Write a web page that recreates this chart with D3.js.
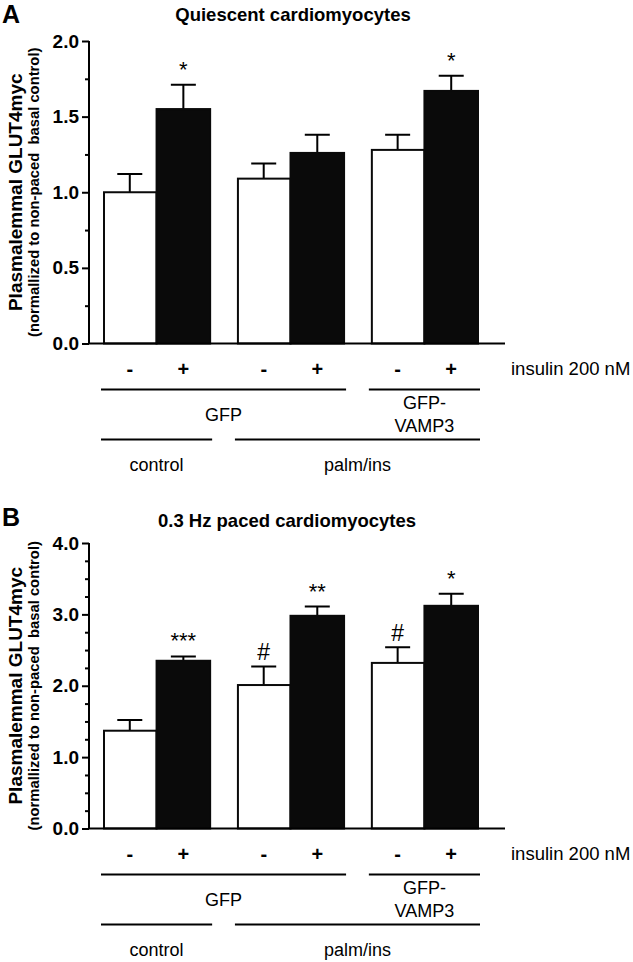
<!DOCTYPE html>
<html>
<head>
<meta charset="utf-8">
<script src="https://cdn.jsdelivr.net/npm/d3@7"></script>
<style>
  html, body { margin: 0; padding: 0; background: #fff; }
  svg { display: block; font-family: "Liberation Sans", Arial, sans-serif; }
</style>
</head>
<body>
<svg id="chart" width="633" height="962"></svg>
<script>
// ---------- data ----------
const groups = ["GFP control", "GFP palm/ins", "GFP-VAMP3 palm/ins"];
const insulin = ["-", "+"];
const insulinLabel = "insulin 200 nM";

const quiescentTitle = "Quiescent cardiomyocytes";
const quiescentMean = [1.00, 1.55, 1.09, 1.26, 1.28, 1.67];
const quiescentSEM  = [0.12, 0.16, 0.10, 0.12, 0.10, 0.10];
const quiescentSig  = ["", "*", "", "", "", "*"];
const quiescentTicks = [0.0, 0.5, 1.0, 1.5, 2.0];
const quiescentMinor = [0.25, 0.75, 1.25, 1.75];

const pacedTitle = "0.3 Hz paced cardiomyocytes";
const pacedMean = [1.37, 2.35, 2.01, 2.98, 2.32, 3.12];
const pacedSEM  = [0.15, 0.06, 0.26, 0.13, 0.22, 0.17];
const pacedSig  = ["", "***", "#", "**", "#", "*"];
const pacedTicks = [0.0, 1.0, 2.0, 3.0, 4.0];
const pacedMinor = [0.25, 0.5, 0.75, 1.25, 1.5, 1.75, 2.25, 2.5, 2.75, 3.25, 3.5, 3.75];

const vectorBrackets = [
  { label: ["GFP"], from: 0, to: 1 },
  { label: ["GFP-", "VAMP3"], from: 2, to: 2 }
];
const treatmentBrackets = [
  { label: ["control"], from: 0, to: 0 },
  { label: ["palm/ins"], from: 1, to: 2 }
];
const yLabelMain = "Plasmalemmal GLUT4myc";
const yLabelSub = "(normallized to non-paced  basal control)";

// ---------- drawing ----------
const svg = d3.select("#chart");
const axisX = 89, axisEnd = 505;
const FONT = "Liberation Sans, Arial, sans-serif";

const xGroup = d3.scaleBand().domain(groups).range([103, 478]).paddingInner(0.2).paddingOuter(0);
const xIns = d3.scaleBand().domain(insulin).range([0, xGroup.bandwidth()]).padding(0);

function panel(cfg) {
  const g = svg.append("g");
  const y = d3.scaleLinear().domain([0, cfg.max]).range([cfg.y0, cfg.yTop]);

  // panel letter & title
  g.append("text").attr("x", 2).attr("y", cfg.letterY).text(cfg.letter)
    .attr("font-size", 25).attr("font-weight", "bold");
  g.append("text").attr("x", cfg.titleX).attr("y", cfg.titleY).attr("text-anchor", "middle")
    .attr("font-size", 18.5).attr("font-weight", "bold").text(cfg.title);

  // y labels
  const mid = (cfg.y0 + cfg.yTop) / 2;
  g.append("text").attr("transform", `translate(22,${mid}) rotate(-90)`)
    .attr("text-anchor", "middle").attr("font-size", 19).attr("font-weight", "bold")
    .text(yLabelMain);
  g.append("text").attr("transform", `translate(39,${mid}) rotate(-90)`)
    .attr("text-anchor", "middle").attr("font-size", 14.8).attr("font-weight", "bold")
    .style("white-space", "pre")
    .text(yLabelSub);

  // bars
  const data = cfg.mean.map((m, i) => ({
    group: groups[Math.floor(i / 2)], ins: insulin[i % 2], mean: m, sem: cfg.sem[i], sig: cfg.sig[i]
  }));
  const bx = d => xGroup(d.group) + xIns(d.ins);
  const bw = xIns.bandwidth();

  // error bars
  g.selectAll(".err").data(data).enter().append("path")
    .attr("d", d => {
      const cx = bx(d) + bw / 2, top = y(d.mean + d.sem), base = y(d.mean);
      return `M${cx},${base}V${top}M${cx - 12.5},${top}H${cx + 12.5}`;
    })
    .attr("stroke", "#000").attr("stroke-width", 2).attr("fill", "none");

  g.selectAll(".bar").data(data).enter().append("rect")
    .attr("x", d => bx(d) + (d.ins === "-" ? 1 : 0))
    .attr("width", d => bw - (d.ins === "-" ? 1 : 0))
    .attr("y", d => y(d.mean))
    .attr("height", d => y(0) - y(d.mean))
    .attr("fill", d => d.ins === "+" ? "#0a0a0a" : "#fff")
    .attr("stroke", "#0a0a0a").attr("stroke-width", 2);

  // significance marks
  g.selectAll(".sig").data(data.filter(d => d.sig)).enter().append("text")
    .attr("x", d => bx(d) + bw / 2)
    .attr("y", d => y(d.mean + d.sem) - (d.sig === "#" ? 6 : 8))
    .attr("text-anchor", "middle")
    .attr("font-size", d => d.sig === "#" ? 23 : 22)
    .text(d => d.sig);

  // axes
  const yAxis = d3.axisLeft(y).tickValues(cfg.ticks).tickSize(7).tickPadding(3)
    .tickFormat(d3.format(".1f"));
  const ya = g.append("g").attr("transform", `translate(${axisX},0)`).call(yAxis);
  ya.select(".domain").attr("stroke-width", 2).attr("d", `M0,${cfg.y0}V${cfg.yTop}`);
  ya.selectAll(".tick line").attr("stroke-width", 2);
  ya.selectAll(".tick text").attr("font-size", 19).attr("font-weight", "bold")
    .attr("font-family", FONT).attr("fill", "#000");
  const ym = g.append("g").attr("transform", `translate(${axisX},0)`)
    .call(d3.axisLeft(y).tickValues(cfg.minor).tickSize(4).tickFormat(""));
  ym.select(".domain").remove();
  ym.selectAll(".tick line").attr("stroke-width", 2);

  g.append("line").attr("x1", axisX).attr("x2", axisEnd).attr("y1", y(0)).attr("y2", y(0))
    .attr("stroke", "#000").attr("stroke-width", 2);

  // insulin row
  const rowY = y(0) + 25;
  g.selectAll(".ins").data(data).enter().append("text")
    .attr("x", d => bx(d) + bw / 2).attr("y", rowY).attr("dy", "0.35em")
    .attr("text-anchor", "middle").attr("font-size", 20).attr("font-weight", "bold")
    .text(d => d.ins);
  g.append("text").attr("x", 511).attr("y", rowY).attr("dy", "0.35em")
    .attr("font-size", 18.5).text(insulinLabel);

  // brackets
  function brackets(list, lineY, textY, lineGap) {
    list.forEach(b => {
      const x1 = xGroup(groups[b.from]) - 2, x2 = xGroup(groups[b.to]) + xGroup.bandwidth() + 2;
      g.append("line").attr("x1", x1).attr("x2", x2).attr("y1", lineY).attr("y2", lineY)
        .attr("stroke", "#000").attr("stroke-width", 2);
      const n = b.label.length;
      b.label.forEach((t, k) => {
        g.append("text").attr("x", (x1 + x2) / 2)
          .attr("y", textY + (k - (n - 1) / 2) * lineGap).attr("dy", "0.35em")
          .attr("text-anchor", "middle").attr("font-size", 18).text(t);
      });
    });
  }
  brackets(vectorBrackets, y(0) + 46, y(0) + 71, 23);
  brackets(treatmentBrackets, y(0) + 96, y(0) + 121, 23);
}

panel({ letter: "A", letterY: 23, title: quiescentTitle, titleX: 293, titleY: 21,
  max: 2, y0: 343.5, yTop: 41, ticks: quiescentTicks, minor: quiescentMinor,
  mean: quiescentMean, sem: quiescentSEM, sig: quiescentSig });
panel({ letter: "B", letterY: 526, title: pacedTitle, titleX: 287, titleY: 527,
  max: 4, y0: 828.5, yTop: 543, ticks: pacedTicks, minor: pacedMinor,
  mean: pacedMean, sem: pacedSEM, sig: pacedSig });
</script>
</body>
</html>
